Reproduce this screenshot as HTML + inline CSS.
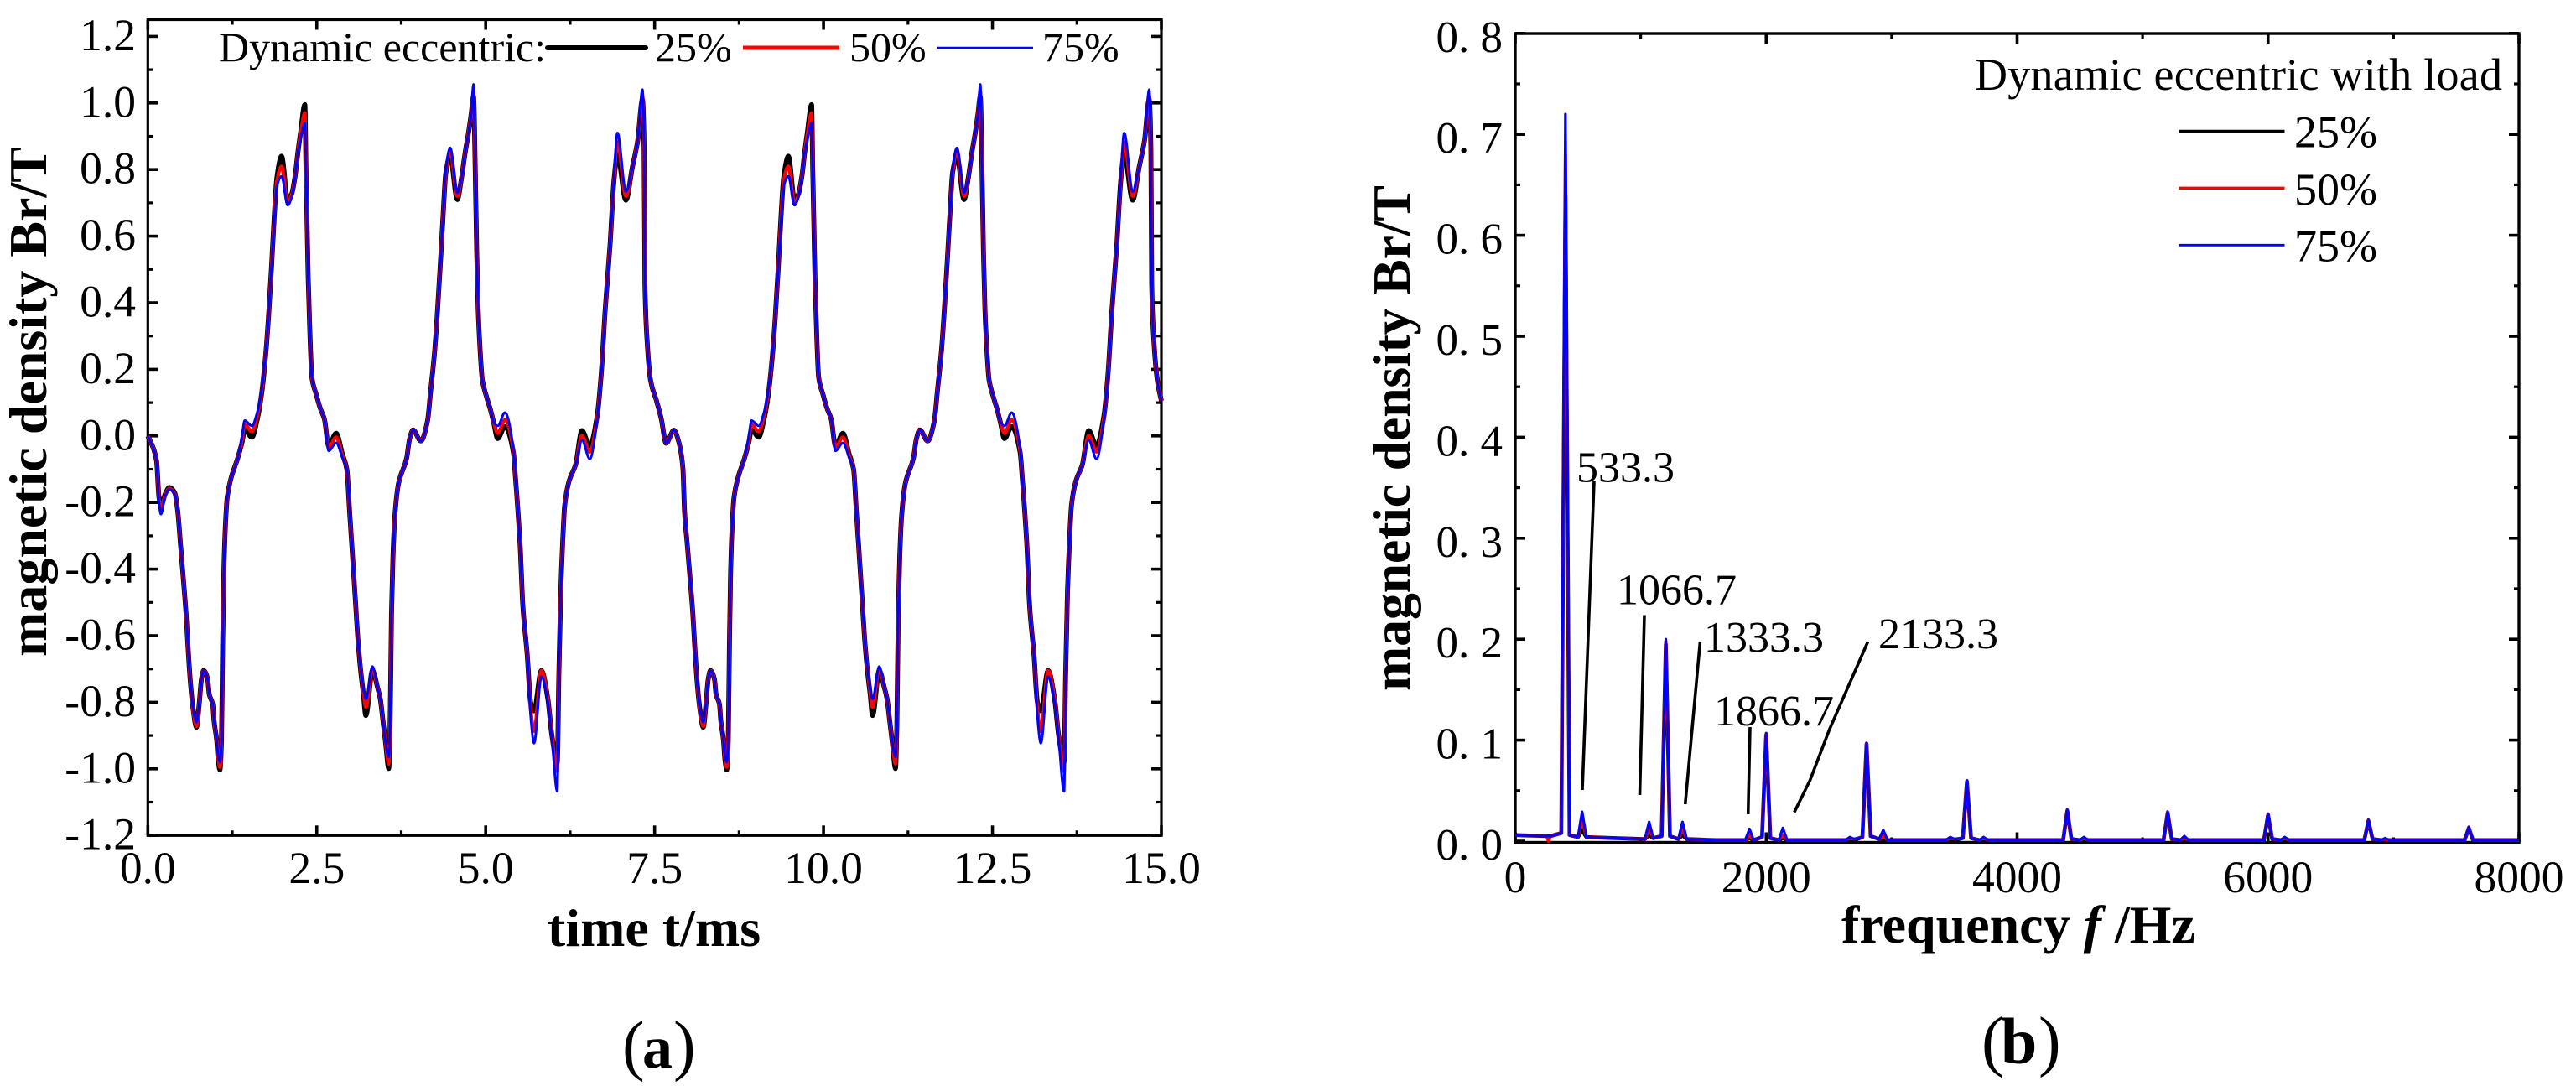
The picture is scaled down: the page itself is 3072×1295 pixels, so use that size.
<!DOCTYPE html>
<html lang="en">
<head>
<meta charset="utf-8">
<title>Dynamic eccentric magnetic density</title>
<style>
html,body{margin:0;padding:0;background:#fff;}
svg{display:block;}
text{font-family:"Liberation Serif",serif;fill:#000;}
</style>
</head>
<body>
<svg id="fig" xmlns="http://www.w3.org/2000/svg" width="3072" height="1295" viewBox="0 0 3072 1295">
  <rect x="0" y="0" width="3072" height="1295" fill="#fff"/>
  <g id="panelA"></g>
  <g id="panelB"></g>

  <text transform="translate(55,479) rotate(-90)" text-anchor="middle" font-size="64" font-weight="bold" textLength="608" lengthAdjust="spacing">magnetic density Br/T</text>
  <text x="653" y="1128" font-size="64" font-weight="bold">time t/ms</text>
  <text transform="translate(1681,522.5) rotate(-90)" text-anchor="middle" font-size="64" font-weight="bold" textLength="603" lengthAdjust="spacing">magnetic density Br/T</text>
  <text x="2196" y="1124" font-size="64" font-weight="bold">frequency <tspan font-style="italic">f</tspan> /Hz</text>

  <g>
    <text x="261" y="73" font-size="50">Dynamic eccentric:</text>
    <line x1="653" y1="57" x2="770" y2="57" stroke="#000" stroke-width="6" stroke-linecap="round"/>
    <text x="781" y="73" font-size="50">25%</text>
    <line x1="886" y1="57" x2="1001" y2="57" stroke="#f00" stroke-width="5"/>
    <text x="1013" y="73" font-size="50">50%</text>
    <line x1="1117" y1="57" x2="1232" y2="57" stroke="#00f" stroke-width="2.6"/>
    <text x="1243" y="73" font-size="50">75%</text>
  </g>

  <g>
    <text x="2355" y="107" font-size="54" textLength="629" lengthAdjust="spacing">Dynamic eccentric with load</text>
    <line x1="2598.5" y1="156.7" x2="2724.5" y2="156.7" stroke="#000" stroke-width="4"/>
    <text x="2736" y="175.7" font-size="54">25%</text>
    <line x1="2598.5" y1="224.3" x2="2724.5" y2="224.3" stroke="#f00" stroke-width="3.3"/>
    <text x="2736" y="244" font-size="54">50%</text>
    <line x1="2598.5" y1="292.3" x2="2724.5" y2="292.3" stroke="#00f" stroke-width="2.8"/>
    <text x="2736" y="311.7" font-size="54">75%</text>
  </g>

  <g>
    <text x="1880" y="574.5" font-size="52">533.3</text>
    <line x1="1901" y1="574" x2="1887" y2="942" stroke="#000" stroke-width="3.6"/>
    <text x="1928" y="720.5" font-size="52">1066.7</text>
    <line x1="1961" y1="733.5" x2="1955.5" y2="948" stroke="#000" stroke-width="3.6"/>
    <text x="2032" y="777" font-size="52">1333.3</text>
    <line x1="2027.5" y1="765" x2="2009.7" y2="959" stroke="#000" stroke-width="3.6"/>
    <text x="2044" y="865" font-size="52">1866.7</text>
    <line x1="2087" y1="867" x2="2084.7" y2="971" stroke="#000" stroke-width="3.6"/>
    <text x="2240" y="773" font-size="52">2133.3</text>
    <polyline points="2227.6,765 2181.6,870 2158.7,930 2139.8,968.5" fill="none" stroke="#000" stroke-width="3.6"/>
  </g>

  <text y="1273" font-size="80"><tspan x="742">(</tspan><tspan x="766" font-size="72" font-weight="bold">a</tspan><tspan x="803">)</tspan></text>
  <text y="1268" font-size="80"><tspan x="2363">(</tspan><tspan x="2386" font-size="78" font-weight="bold">b</tspan><tspan x="2431">)</tspan></text>
</svg>

<script>
/* ---------- panel (a): flux density vs. time ---------- */
const timeMs = [0,.09,.13,.165,.195,.256,.318,.4,
.443,.484,.525,.567,.596,.63,.67,.72,.76,.794,.827,.885,.91,.96,.98,1.02,1.04,1.067,
1.09,1.108,1.125,1.145,1.175,1.228,1.33,1.394,1.435,1.54,1.62,1.68,1.745,1.787,1.83,1.87,1.91,1.98,
2.07,2.126,2.18,2.22,2.26,2.324,2.34,2.357,2.374,2.4,2.428,2.49,2.55,2.614,2.676,2.787,
2.88,2.945,2.986,3.027,3.07,3.11,3.15,3.19,3.226,3.325,3.4,3.44,3.48,3.52,3.565,
3.585,3.606,3.627,3.655,3.71,3.83,3.875,3.925,4.04,4.14,4.185,4.247,4.29,4.33,4.37,4.41,4.475,
4.58,4.64,4.7,4.743,4.785,4.82,4.845,4.867,4.888,4.917,4.95,5.012,5.074,5.116,5.178,5.285,
5.41,5.44,5.51,5.55,5.615,5.665,5.716,5.824,5.92,5.98,6.06,
6.083,6.11,6.14,6.17,6.235,6.33,6.425,6.54,6.65,6.71,6.77,6.84,6.9,6.95,
7.075,7.17,7.25,7.32,7.345,7.357,7.387,7.44,7.53,7.6,7.67,7.786,7.86,7.92,
7.943,7.984,8.025,8.067,8.096,8.13,8.17,8.22,8.26,8.294,8.327,8.385,8.41,8.46,8.48,8.52,8.54,8.567,
8.59,8.608,8.625,8.645,8.675,8.728,8.83,8.894,8.935,9.04,9.12,9.18,9.245,9.287,9.33,9.37,9.41,9.48,
9.57,9.626,9.68,9.72,9.76,9.824,9.84,9.857,9.874,9.9,9.928,9.99,10.05,10.114,10.176,10.287,
10.38,10.445,10.486,10.527,10.57,10.61,10.65,10.69,10.726,10.825,10.9,10.94,10.98,11.02,11.065,
11.085,11.106,11.127,11.155,11.21,11.33,11.375,11.425,11.54,11.64,11.685,11.747,11.79,11.83,11.87,11.91,11.975,
12.08,12.14,12.2,12.243,12.285,12.32,12.345,12.367,12.388,12.417,12.45,12.512,12.574,12.616,12.678,12.785,
12.91,12.94,13.01,13.05,13.115,13.165,13.216,13.324,13.42,13.48,13.56,
13.583,13.61,13.64,13.67,13.735,13.83,13.925,14.04,14.15,14.21,14.27,14.34,14.4,14.45,
14.575,14.67,14.75,14.82,14.845,14.857,14.887,14.94,15];

const density25 = [0,-.042,-.076,-.185,-.21,-.175,-.155,-.172,
-.227,-.327,-.428,-.537,-.638,-.74,-.82,-.875,-.806,-.73,-.705,-.73,-.777,-.806,-.856,-.915,-.97,-1.003,
-.915,-.62,-.41,-.285,-.185,-.13,-.067,-.02,.02,-.004,.05,.12,.245,.36,.505,.655,.775,.84,
.71,.725,.78,.85,.91,.995,.806,.638,.47,.3,.176,.126,.084,.05,-.03,.008,
-.055,-.1,-.227,-.353,-.487,-.613,-.705,-.775,-.84,-.705,-.756,-.79,-.856,-.924,-.999,
-.873,-.537,-.37,-.243,-.143,-.067,-.008,.018,-.015,.046,.134,.26,.386,.52,.663,.79,.84,
.71,.772,.856,.907,.966,1.02,.806,.554,.386,.26,.168,.118,.076,.042,-.008,.028,
-.05,-.123,-.33,-.51,-.658,-.8,-.826,-.705,-.79,-.9,-.98,
-.718,-.475,-.317,-.208,-.135,-.087,.016,-.03,.06,.186,.383,.572,.77,.846,
.708,.806,.887,1.01,.86,.456,.293,.167,.104,.05,-.022,.017,-.02,-.1,
-.227,-.327,-.428,-.537,-.638,-.74,-.82,-.875,-.806,-.73,-.705,-.73,-.777,-.806,-.856,-.915,-.97,-1.003,
-.915,-.62,-.41,-.285,-.185,-.13,-.067,-.02,.02,-.004,.05,.12,.245,.36,.505,.655,.775,.84,
.71,.725,.78,.85,.91,.995,.806,.638,.47,.3,.176,.126,.084,.05,-.03,.008,
-.055,-.1,-.227,-.353,-.487,-.613,-.705,-.775,-.84,-.705,-.756,-.79,-.856,-.924,-.999,
-.873,-.537,-.37,-.243,-.143,-.067,-.008,.018,-.015,.046,.134,.26,.386,.52,.663,.79,.84,
.71,.772,.856,.907,.966,1.02,.806,.554,.386,.26,.168,.118,.076,.042,-.008,.028,
-.05,-.123,-.33,-.51,-.658,-.8,-.826,-.705,-.79,-.9,-.98,
-.718,-.475,-.317,-.208,-.135,-.087,.016,-.03,.06,.186,.383,.572,.77,.846,
.708,.806,.887,1.01,.86,.456,.293,.167,.105];

const density50 = [0,-.042,-.076,-.19,-.218,-.178,-.158,-.174,
-.227,-.327,-.428,-.537,-.638,-.74,-.825,-.872,-.806,-.73,-.705,-.73,-.777,-.806,-.856,-.915,-.965,-.995,
-.915,-.62,-.41,-.285,-.185,-.13,-.067,-.012,.034,.013,.06,.127,.25,.36,.505,.65,.765,.81,
.7,.722,.78,.85,.905,.97,.806,.638,.47,.3,.176,.126,.084,.05,-.035,-.004,
-.06,-.1,-.227,-.353,-.487,-.613,-.7,-.77,-.815,-.7,-.756,-.79,-.856,-.924,-.985,
-.873,-.537,-.37,-.243,-.143,-.067,-.008,.018,-.015,.046,.134,.26,.386,.52,.663,.79,.855,
.72,.772,.856,.907,.966,1.035,.806,.554,.386,.26,.168,.118,.076,.042,.008,.048,
-.045,-.123,-.33,-.51,-.658,-.82,-.887,-.705,-.79,-.9,-1.008,
-.718,-.475,-.317,-.208,-.135,-.087,.001,-.048,.055,.186,.383,.572,.77,.883,
.72,.806,.887,1.022,.86,.456,.293,.167,.104,.05,-.022,.017,-.02,-.1,
-.227,-.327,-.428,-.537,-.638,-.74,-.825,-.872,-.806,-.73,-.705,-.73,-.777,-.806,-.856,-.915,-.965,-.995,
-.915,-.62,-.41,-.285,-.185,-.13,-.067,-.012,.034,.013,.06,.127,.25,.36,.505,.65,.765,.81,
.7,.722,.78,.85,.905,.97,.806,.638,.47,.3,.176,.126,.084,.05,-.035,-.004,
-.06,-.1,-.227,-.353,-.487,-.613,-.7,-.77,-.815,-.7,-.756,-.79,-.856,-.924,-.985,
-.873,-.537,-.37,-.243,-.143,-.067,-.008,.018,-.015,.046,.134,.26,.386,.52,.663,.79,.855,
.72,.772,.856,.907,.966,1.035,.806,.554,.386,.26,.168,.118,.076,.042,.008,.048,
-.045,-.123,-.33,-.51,-.658,-.82,-.887,-.705,-.79,-.9,-1.008,
-.718,-.475,-.317,-.208,-.135,-.087,.001,-.048,.055,.186,.383,.572,.77,.883,
.72,.806,.887,1.022,.86,.456,.293,.167,.105];

const density75 = [0,-.042,-.076,-.2,-.235,-.18,-.16,-.176,
-.227,-.327,-.428,-.537,-.638,-.74,-.82,-.86,-.806,-.73,-.705,-.73,-.777,-.806,-.856,-.915,-.96,-.98,
-.915,-.62,-.41,-.285,-.185,-.13,-.067,-.002,.046,.03,.071,.134,.252,.36,.505,.64,.75,.78,
.693,.715,.78,.85,.89,.94,.806,.638,.47,.3,.176,.126,.084,.05,-.045,-.021,
-.065,-.1,-.227,-.353,-.487,-.613,-.7,-.76,-.79,-.693,-.756,-.79,-.856,-.924,-.965,
-.873,-.537,-.37,-.243,-.143,-.067,-.008,.018,-.015,.046,.134,.26,.386,.52,.663,.8,.865,
.73,.772,.856,.907,.966,1.056,.806,.554,.386,.26,.168,.118,.076,.042,.03,.07,
-.04,-.123,-.33,-.51,-.658,-.84,-.923,-.723,-.8,-.91,-1.068,
-.718,-.475,-.317,-.208,-.135,-.087,-.013,-.069,.05,.186,.383,.572,.78,.91,
.734,.806,.887,1.04,.86,.456,.293,.167,.104,.05,-.022,.017,-.02,-.1,
-.227,-.327,-.428,-.537,-.638,-.74,-.82,-.86,-.806,-.73,-.705,-.73,-.777,-.806,-.856,-.915,-.96,-.98,
-.915,-.62,-.41,-.285,-.185,-.13,-.067,-.002,.046,.03,.071,.134,.252,.36,.505,.64,.75,.78,
.693,.715,.78,.85,.89,.94,.806,.638,.47,.3,.176,.126,.084,.05,-.045,-.021,
-.065,-.1,-.227,-.353,-.487,-.613,-.7,-.76,-.79,-.693,-.756,-.79,-.856,-.924,-.965,
-.873,-.537,-.37,-.243,-.143,-.067,-.008,.018,-.015,.046,.134,.26,.386,.52,.663,.8,.865,
.73,.772,.856,.907,.966,1.056,.806,.554,.386,.26,.168,.118,.076,.042,.03,.07,
-.04,-.123,-.33,-.51,-.658,-.84,-.923,-.723,-.8,-.91,-1.068,
-.718,-.475,-.317,-.208,-.135,-.087,-.013,-.069,.05,.186,.383,.572,.78,.91,
.734,.806,.887,1.04,.86,.456,.293,.167,.105];

const timeTickLabels = ['0.0','2.5','5.0','7.5','10.0','12.5','15.0'];
const densityTickLabels = ['-1.2','-1.0','-0.8','-0.6','-0.4','-0.2','0.0','0.2','0.4','0.6','0.8','1.0','1.2'];

/* ---------- panel (b): spectrum ---------- */
const freqHz = [0,250,265,280,367,400,433,500,533,567,800,1033,1067,1100,1167,1200,1233,1300,1333,1367,1600,1833,1867,1900,1967,2000,2033,2100,2133,2167,2633,2667,2700,2767,2800,2833,2900,2933,2967,3433,3467,3500,3567,3600,3633,3700,3733,3767,4367,4400,4433,4500,4533,4567,5167,5200,5233,5300,5333,5367,5967,6000,6033,6100,6133,6167,6767,6800,6833,6900,6933,6967,7567,7600,7633,8000];

const spectrum25 = [.006,.005,.005,.005,.008,.64,.006,.004,.011,.004,.003,.002,.006,.003,.005,.195,.005,.002,.006,.002,.001,.001,.003,.001,.004,.105,.003,.001,.003,.001,.001,.002,.001,.004,.096,.005,.002,.002,.001,.001,.002,.001,.003,.059,.003,.001,.002,.001,.001,.03,.002,.001,.002,.001,.001,.028,.002,.001,.002,.001,.001,.026,.002,.001,.002,.001,.001,.02,.002,.001,.001,.001,.001,.013,.001,.001];

const spectrum50 = [.006,.005,0,.005,.008,.68,.006,.004,.02,.004,.003,.002,.012,.003,.005,.198,.005,.002,.012,.002,.001,.001,.006,.001,.004,.106,.003,.001,.006,.001,.001,.003,.002,.004,.097,.005,.002,.005,.001,.001,.003,.002,.003,.06,.003,.001,.003,.001,.001,.031,.002,.001,.003,.001,.001,.029,.002,.001,.003,.001,.001,.027,.002,.001,.003,.001,.001,.021,.002,.001,.002,.001,.001,.014,.001,.001];

const spectrum75 = [.006,.005,.005,.005,.008,.72,.006,.004,.029,.004,.003,.002,.019,.003,.005,.2,.005,.002,.019,.002,.001,.001,.012,.001,.004,.107,.003,.001,.013,.001,.001,.004,.002,.004,.097,.005,.002,.011,.001,.001,.004,.002,.003,.06,.003,.001,.004,.001,.001,.031,.002,.001,.004,.001,.001,.029,.002,.001,.005,.001,.001,.027,.002,.001,.004,.001,.001,.021,.002,.001,.003,.001,.001,.014,.001,.001];

const freqTickLabels = ['0','2000','4000','6000','8000'];
const spectrumTickLabels = ['0. 0','0. 1','0. 2','0. 3','0. 4','0. 5','0. 6','0. 7','0. 8'];

/* ---------- axis functions ---------- */
const SVGNS = 'http://www.w3.org/2000/svg';
const xA = t => 176.3 + (t - 0) * (1385 - 176.3) / 15;
const yA = v => 519.8 - v * 397;
const xB = f => 1807 + f * (3004 - 1807) / 8000;
const yB = v => 1003 - v * 1204;

function tickLine(parent, x1, y1, x2, y2, w) {
  const el = document.createElementNS(SVGNS, 'line');
  el.setAttribute('x1', x1);
  el.setAttribute('y1', y1);
  el.setAttribute('x2', x2);
  el.setAttribute('y2', y2);
  el.setAttribute('stroke', '#000');
  el.setAttribute('stroke-width', w);
  
  
  parent.appendChild(el);
}
function tickText(parent, x, y, anchor, size, str) {
  const el = document.createElementNS(SVGNS, 'text');
  el.setAttribute('x', x);
  el.setAttribute('y', y);
  el.setAttribute('text-anchor', anchor);
  el.setAttribute('font-size', size);
  el.textContent = str;
  
  
  parent.appendChild(el);
}
function frame(parent, x, y, w, h, sw) {
  const el = document.createElementNS(SVGNS, 'rect');
  el.setAttribute('x', x);
  el.setAttribute('y', y);
  el.setAttribute('width', w);
  el.setAttribute('height', h);
  el.setAttribute('fill', 'none');
  el.setAttribute('stroke', '#000');
  el.setAttribute('stroke-width', sw);
  
  
  parent.appendChild(el);
}
function curve(parent, xs, ys, fx, fy, color, w) {
  const el = document.createElementNS(SVGNS, 'polyline');
  el.setAttribute('points', xs.map((x, i) => fx(x).toFixed(2) + ',' + fy(ys[i]).toFixed(2)).join(' '));
  el.setAttribute('fill', 'none');
  el.setAttribute('stroke', color);
  el.setAttribute('stroke-width', w);
  el.setAttribute('stroke-linejoin', 'round');
  
  
  parent.appendChild(el);
}
/* monotone cubic through the data points: no overshoot, rounded knees */
function smoothCurve(parent, xs, ys, fx, fy, color, w) {
  const px = xs.map(fx);
  const py = ys.map(fy);
  const n = px.length;
  const h = [], d = [], m = new Array(n);
  for (let i = 0; i < n - 1; i++) {
    h[i] = px[i + 1] - px[i];
    d[i] = (py[i + 1] - py[i]) / h[i];
  }
  m[0] = d[0];
  m[n - 1] = d[n - 2];
  for (let i = 1; i < n - 1; i++) {
    if (d[i - 1] * d[i] <= 0) {
      m[i] = 0;
    } else {
      const w1 = 2 * h[i] + h[i - 1];
      const w2 = h[i] + 2 * h[i - 1];
      m[i] = (w1 + w2) / (w1 / d[i - 1] + w2 / d[i]);
    }
  }
  let s = 'M' + px[0].toFixed(2) + ' ' + py[0].toFixed(2);
  for (let i = 0; i < n - 1; i++) {
    const c1x = px[i] + h[i] / 3;
    const c1y = py[i] + m[i] * h[i] / 3;
    const c2x = px[i + 1] - h[i] / 3;
    const c2y = py[i + 1] - m[i + 1] * h[i] / 3;
    s += 'C' + c1x.toFixed(2) + ' ' + c1y.toFixed(2) + ' ' + c2x.toFixed(2) + ' ' + c2y.toFixed(2) + ' ' + px[i + 1].toFixed(2) + ' ' + py[i + 1].toFixed(2);
  }
  const el = document.createElementNS(SVGNS, 'path');
  el.setAttribute('d', s);
  el.setAttribute('fill', 'none');
  el.setAttribute('stroke', color);
  el.setAttribute('stroke-width', w);
  el.setAttribute('stroke-linejoin', 'round');
  
  
  parent.appendChild(el);
}

/* ---------- draw panel (a) ---------- */
const pa = document.getElementById('panelA');
const aTop = 23.5, aBot = 996.3, aL = 176.3, aR = 1385;
frame(pa, aL, aTop, aR - aL, aBot - aTop, 3.2);
timeTickLabels.forEach((lab, i) => {
  const t = parseFloat(lab);
  const x = xA(t);
  tickLine(pa, x, aBot, x, aBot - 12, 3.6);
  tickLine(pa, x, aTop, x, aTop + 12, 3.6);
  if (i < timeTickLabels.length - 1) {
    const xm = xA(t + 1.25);
    tickLine(pa, xm, aBot, xm, aBot - 6, 3.2);
    tickLine(pa, xm, aTop, xm, aTop + 6, 3.2);
  }
  tickText(pa, x, 1053, 'middle', 53.5, lab);
});
densityTickLabels.forEach((lab, i) => {
  const v = parseFloat(lab);
  const y = yA(v);
  tickLine(pa, aL, y, aL + 12, y, 3.6);
  tickLine(pa, aR, y, aR - 12, y, 3.6);
  if (i < densityTickLabels.length - 1) {
    const ym = yA(v + 0.1);
    tickLine(pa, aL, ym, aL + 6, ym, 3.2);
    tickLine(pa, aR, ym, aR - 6, ym, 3.2);
  }
  tickText(pa, 162, y + 16.5, 'end', 53.5, lab);
});
smoothCurve(pa, timeMs, density25, xA, yA, '#000', 5.8);
smoothCurve(pa, timeMs, density50, xA, yA, '#f00', 4.2);
smoothCurve(pa, timeMs, density75, xA, yA, '#00f', 3);

/* ---------- draw panel (b) ---------- */
const pb = document.getElementById('panelB');
const bTop = 40, bBot = 1004.5, bL = 1807, bR = 3004;
frame(pb, bL, bTop, bR - bL, bBot - bTop, 3.4);
freqTickLabels.forEach((lab, i) => {
  const f = parseFloat(lab);
  const x = xB(f);
  tickLine(pb, x, bBot, x, bBot - 12, 3.6);
  tickLine(pb, x, bTop, x, bTop + 12, 3.6);
  if (i < freqTickLabels.length - 1) {
    const xm = xB(f + 1000);
    tickLine(pb, xm, bBot, xm, bBot - 6, 3.2);
    tickLine(pb, xm, bTop, xm, bTop + 6, 3.2);
  }
  tickText(pb, x, 1064, 'middle', 53.5, lab);
});
spectrumTickLabels.forEach((lab, i) => {
  const v = parseFloat(lab.replace(' ', ''));
  const y = yB(v);
  tickLine(pb, bL, y, bL + 12, y, 3.6);
  tickLine(pb, bR, y, bR - 12, y, 3.6);
  if (i < spectrumTickLabels.length - 1) {
    const ym = yB(v + 0.05);
    tickLine(pb, bL, ym, bL + 6, ym, 3.2);
    tickLine(pb, bR, ym, bR - 6, ym, 3.2);
  }
  tickText(pb, 1792, y + 22, 'end', 53, lab);
});
curve(pb, freqHz, spectrum25, xB, yB, '#000', 4.6);
curve(pb, freqHz, spectrum50, xB, yB, '#f00', 3.8);
curve(pb, freqHz, spectrum75, xB, yB, '#00f', 3.2);
</script>
</body>
</html>
